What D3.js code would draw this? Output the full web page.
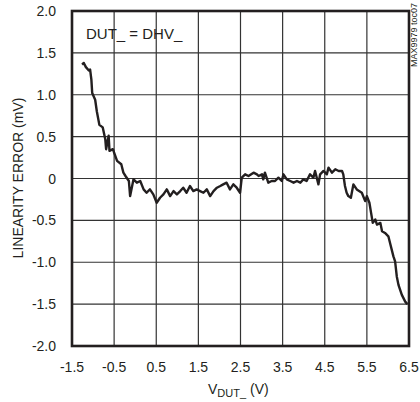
<!DOCTYPE html>
<html>
<head>
<meta charset="utf-8">
<script src="https://cdn.jsdelivr.net/npm/d3@7"></script>
<style>
  body { margin: 0; background: #fff; }
  text { font-family: "Liberation Sans", Arial, sans-serif; fill: #231f20; }
</style>
</head>
<body>
<script>
// linearity error vs VDUT_
var vdut = [-1.26, -1.22, -1.17, -1.10, -1.07, -1.04, -1.02, -0.95, -0.91, -0.85,
  -0.77, -0.71, -0.69, -0.63, -0.61, -0.53, -0.43, -0.33, -0.28, -0.23,
  -0.15, -0.12, -0.04, 0.04, 0.12, 0.20, 0.27, 0.35, 0.43, 0.51,
  0.59, 0.67, 0.75, 0.83, 0.91, 0.99, 1.07, 1.14, 1.22, 1.30,
  1.38, 1.46, 1.54, 1.62, 1.70, 1.78, 1.86, 1.94, 2.02, 2.09,
  2.17, 2.25, 2.33, 2.41, 2.49, 2.53, 2.61, 2.69, 2.81, 2.89,
  2.93, 3.01, 3.04, 3.08, 3.16, 3.24, 3.32, 3.40, 3.48, 3.52,
  3.60, 3.68, 3.76, 3.84, 3.92, 3.99, 4.07, 4.15, 4.23, 4.27,
  4.35, 4.39, 4.47, 4.55, 4.59, 4.67, 4.75, 4.83, 4.91, 4.94,
  4.98, 5.02, 5.06, 5.12, 5.18, 5.26, 5.38, 5.46, 5.50, 5.56,
  5.60, 5.64, 5.70, 5.74, 5.82, 5.86, 5.93, 6.01, 6.05, 6.13,
  6.17, 6.21, 6.25, 6.33, 6.41, 6.46];
var linErr = [1.36, 1.38, 1.33, 1.29, 1.30, 1.18, 1.02, 0.94, 0.80, 0.64,
  0.61, 0.47, 0.35, 0.51, 0.33, 0.35, 0.21, 0.17, 0.07, 0.03,
  -0.03, -0.21, -0.01, -0.05, -0.03, -0.13, -0.17, -0.13, -0.19, -0.29,
  -0.23, -0.19, -0.13, -0.21, -0.15, -0.19, -0.15, -0.11, -0.17, -0.09,
  -0.15, -0.13, -0.15, -0.17, -0.13, -0.21, -0.15, -0.11, -0.09, -0.07,
  -0.05, -0.13, -0.07, -0.11, -0.17, 0.01, 0.05, 0.03, 0.07, 0.05,
  0.03, 0.05, -0.01, 0.07, -0.05, -0.03, -0.03, 0.01, -0.03, 0.05,
  -0.01, -0.03, -0.05, -0.03, -0.05, -0.01, -0.03, 0.05, 0.01, 0.09,
  -0.07, 0.05, 0.09, 0.05, 0.13, 0.07, 0.11, 0.09, 0.09, 0.05,
  -0.09, -0.17, -0.21, -0.23, -0.07, -0.13, -0.17, -0.27, -0.21, -0.29,
  -0.41, -0.53, -0.49, -0.55, -0.53, -0.63, -0.65, -0.69, -0.77, -0.93,
  -0.99, -1.17, -1.27, -1.39, -1.47, -1.50];

var xTicks = [-1.5, -0.5, 0.5, 1.5, 2.5, 3.5, 4.5, 5.5, 6.5];
var yTicks = [2.0, 1.5, 1.0, 0.5, 0, -0.5, -1.0, -1.5, -2.0];

var W = 420, H = 402;
var pLeft = 72, pTop = 11, pRight = 409, pBottom = 346;

var svg = d3.select("body").append("svg")
  .attr("width", W)
  .attr("height", H);

var x = d3.scaleLinear().domain([-1.5, 6.5]).range([pLeft, pRight]);
var y = d3.scaleLinear().domain([-2, 2]).range([pBottom, pTop]);

//グリッド
svg.selectAll(".vg").data(xTicks).enter().append("line")
  .attr("x1", function(d){ return x(d); })
  .attr("x2", function(d){ return x(d); })
  .attr("y1", pTop).attr("y2", pBottom)
  .attr("stroke", "#333").attr("stroke-width", 1.2);
svg.selectAll(".hg").data(yTicks).enter().append("line")
  .attr("y1", function(d){ return y(d); })
  .attr("y2", function(d){ return y(d); })
  .attr("x1", pLeft).attr("x2", pRight)
  .attr("stroke", "#333").attr("stroke-width", 1.2);

//枠
svg.append("rect")
  .attr("x", pLeft).attr("y", pTop)
  .attr("width", pRight - pLeft).attr("height", pBottom - pTop)
  .attr("fill", "none").attr("stroke", "#231f20").attr("stroke-width", 2.6);

//目盛りラベル
svg.selectAll(".xl").data(xTicks).enter().append("text")
  .attr("x", function(d){ return x(d); })
  .attr("y", 372)
  .attr("text-anchor", "middle")
  .attr("font-size", 14)
  .text(function(d){ return d.toFixed(1); });
svg.selectAll(".yl").data(yTicks).enter().append("text")
  .attr("x", 56)
  .attr("y", function(d){ return y(d) + 5; })
  .attr("text-anchor", "end")
  .attr("font-size", 14)
  .text(function(d){ return d === 0 ? "0" : d.toFixed(1); });

//データ線
var pts = vdut.map(function(v, i){ return [v, linErr[i]]; });
svg.append("path")
  .datum(pts)
  .attr("d", d3.line().x(function(d){ return x(d[0]); }).y(function(d){ return y(d[1]); }))
  .attr("fill", "none")
  .attr("stroke", "#231f20")
  .attr("stroke-width", 2.4)
  .attr("stroke-linejoin", "round");

//ラベル
svg.append("text")
  .attr("x", 86).attr("y", 39)
  .attr("font-size", 15)
  .text("DUT_ = DHV_");

var xt = svg.append("text")
  .attr("x", 208).attr("y", 394)
  .attr("font-size", 14);
xt.append("tspan").text("V");
xt.append("tspan").attr("font-size", 11).attr("dy", 3).text("DUT_");
xt.append("tspan").attr("dy", -3).text(" (V)");

svg.append("text")
  .attr("transform", "translate(23,178) rotate(-90)")
  .attr("text-anchor", "middle")
  .attr("font-size", 14)
  .text("LINEARITY ERROR (mV)");

svg.append("text")
  .attr("transform", "translate(417,3) rotate(-90)")
  .attr("text-anchor", "end")
  .attr("font-size", 9)
  .text("MAX9979 toc07");
</script>
</body>
</html>
